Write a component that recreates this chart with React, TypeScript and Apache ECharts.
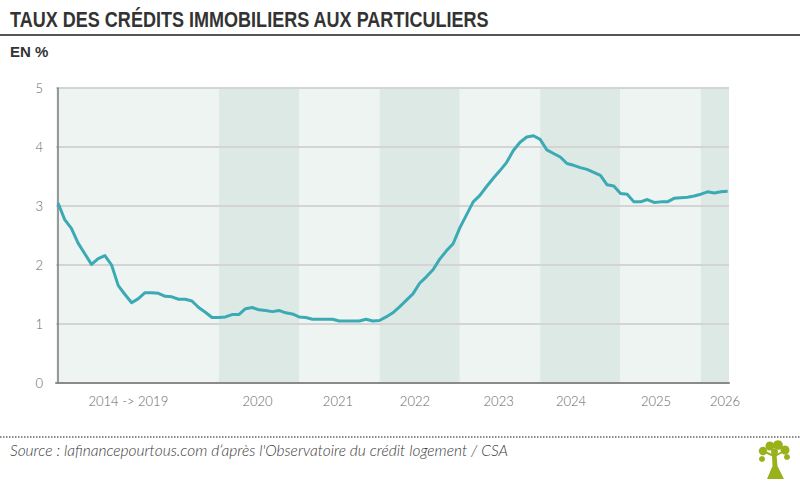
import React, { useEffect, useRef } from "react";
import * as echarts from "echarts";

// Taux moyens des crédits immobiliers aux particuliers, en %
// 2014 -> 2019 : un point par trimestre
const rates2014to2019 = [
  3.05, 2.77, 2.62, 2.37, 2.19, 2.01, 2.11, 2.16, 2.0, 1.65, 1.5, 1.36,
  1.43, 1.53, 1.53, 1.52, 1.47, 1.46, 1.42, 1.42, 1.39, 1.28, 1.2, 1.11,
];
// À partir de 2020 : un point par mois
const rates2020 = [1.11, 1.12, 1.16, 1.16, 1.26, 1.28, 1.24, 1.23, 1.21, 1.23, 1.19, 1.17];
const rates2021 = [1.12, 1.11, 1.08, 1.08, 1.08, 1.08, 1.05, 1.05, 1.05, 1.05, 1.08, 1.05];
const rates2022 = [1.06, 1.12, 1.19, 1.29, 1.4, 1.51, 1.69, 1.8, 1.92, 2.1, 2.24, 2.36];
const rates2023 = [2.63, 2.85, 3.07, 3.18, 3.33, 3.47, 3.6, 3.74, 3.94, 4.08, 4.17, 4.19];
const rates2024 = [4.13, 3.95, 3.89, 3.83, 3.72, 3.69, 3.65, 3.62, 3.57, 3.52, 3.36, 3.34];
const rates2025 = [3.21, 3.2, 3.07, 3.07, 3.11, 3.06, 3.07, 3.07, 3.13, 3.14, 3.15, 3.17];
const rates2026 = [3.2, 3.24, 3.22, 3.24, 3.25];

const periodRates = [
  rates2014to2019, rates2020, rates2021, rates2022,
  rates2023, rates2024, rates2025, rates2026,
];
const periodLabels = ["2014 -> 2019", "2020", "2021", "2022", "2023", "2024", "2025", "2026"];

// Y axis ticks
const yTicks = [0, 1, 2, 3, 4, 5];

// Layout (axis units: one slot per point)
const X_MIN = -0.3;
const X_MAX = 100.2;
const labelAt = [10.5, 29.8, 41.8, 53.3, 65.8, 76.6, 89.3, 99.6];

const LIGHT_BAND = "#eef4f1";
const DARK_BAND = "#dde9e4";
const LINE_COLOR = "#3caab4";
const LOGO_GREEN = "#99b11a";
const FONT = "Lato, 'Open Sans', sans-serif";
const HEAD_FONT = "'Liberation Sans', Arial, sans-serif";

function buildOption() {
  const points: [number, number][] = [];
  const bands: any[] = [];
  let start = 0;
  periodRates.forEach((arr, p) => {
    const from = p === 0 ? X_MIN : start;
    const end = start + arr.length;
    const to = p === periodRates.length - 1 ? X_MAX : end;
    bands.push([
      { xAxis: from, itemStyle: { color: p % 2 === 0 ? LIGHT_BAND : DARK_BAND } },
      { xAxis: to },
    ]);
    arr.forEach((v, i) => points.push([start + i, v]));
    start = end;
  });

  return {
    animation: false,
    backgroundColor: "#ffffff",
    textStyle: { fontFamily: FONT },
    grid: { left: 56, right: 71, top: 88, bottom: 100, containLabel: false },
    xAxis: {
      type: "value",
      min: X_MIN,
      max: X_MAX,
      z: 1,
      axisLine: { show: true, lineStyle: { color: "#8a8a8a", width: 2 } },
      axisTick: { show: false },
      splitLine: { show: false },
      axisLabel: {
        customValues: labelAt,
        formatter: (v: number) => {
          const k = labelAt.findIndex((a) => Math.abs(a - v) < 1e-6);
          return k >= 0 ? periodLabels[k] : "";
        },
        color: "#666666",
        fontSize: 13,
        fontWeight: 300,
        fontFamily: FONT,
        margin: 11,
      },
    },
    yAxis: {
      type: "value",
      min: yTicks[0],
      max: yTicks[yTicks.length - 1],
      interval: 1,
      z: 1,
      axisLine: { show: true, lineStyle: { color: "#7a7a7a", width: 1.5 } },
      axisTick: { show: false },
      splitLine: { show: true, lineStyle: { color: "#d4d4d4", width: 1.8 } },
      axisLabel: {
        color: "#666666",
        fontSize: 13,
        fontWeight: 300,
        fontFamily: FONT,
        margin: 13,
      },
    },
    series: [
      {
        type: "line",
        data: [],
        silent: true,
        z: 0,
        markArea: { silent: true, z: 0, data: bands },
      },
      {
        type: "line",
        data: points,
        z: 3,
        showSymbol: false,
        symbol: "none",
        lineStyle: { color: LINE_COLOR, width: 3, join: "round" },
      },
    ],
    graphic: [
      {
        type: "text",
        x: 10,
        y: 8,
        scaleX: 0.82,
        style: {
          text: "TAUX DES CRÉDITS IMMOBILIERS AUX PARTICULIERS",
          fill: "#333333",
          font: "bold 22px " + HEAD_FONT,
          align: "left",
          verticalAlign: "top",
        },
      },
      {
        type: "line",
        shape: { x1: 0, y1: 35, x2: 800, y2: 35 },
        style: { stroke: "#555555", lineWidth: 2 },
      },
      {
        type: "text",
        x: 10,
        y: 44,
        style: {
          text: "EN %",
          fill: "#333333",
          font: "bold 15px " + HEAD_FONT,
          align: "left",
          verticalAlign: "top",
        },
      },
      {
        type: "line",
        shape: { x1: 0, y1: 437, x2: 800, y2: 437 },
        style: { stroke: "#666666", lineWidth: 1.5, lineDash: [1.5, 1.5] },
      },
      {
        type: "text",
        x: 10,
        y: 442,
        style: {
          text: "Source : lafinancepourtous.com d’après l'Observatoire du crédit logement / CSA",
          fill: "#3a3a3a",
          font: "italic 300 15.5px " + FONT,
          align: "left",
          verticalAlign: "top",
        },
      },
      {
        type: "group",
        x: 774,
        y: 460,
        children: [
          { type: "polygon", shape: { points: [[-2, -5], [2.5, -5], [3.5, 6], [10, 19], [-7, 19], [-1.5, 6]] }, style: { fill: LOGO_GREEN } },
          { type: "line", shape: { x1: 0, y1: -4, x2: -9, y2: -8 }, style: { stroke: LOGO_GREEN, lineWidth: 2 } },
          { type: "line", shape: { x1: 1, y1: -4, x2: 10, y2: -9 }, style: { stroke: LOGO_GREEN, lineWidth: 2 } },
          { type: "circle", shape: { cx: -11, cy: -9, r: 4.2 }, style: { fill: LOGO_GREEN } },
          { type: "circle", shape: { cx: -12, cy: -1, r: 3 }, style: { fill: LOGO_GREEN } },
          { type: "circle", shape: { cx: -4, cy: -14, r: 4.5 }, style: { fill: LOGO_GREEN } },
          { type: "circle", shape: { cx: 4, cy: -15, r: 4.8 }, style: { fill: LOGO_GREEN } },
          { type: "circle", shape: { cx: 11, cy: -10, r: 4.5 }, style: { fill: LOGO_GREEN } },
          { type: "circle", shape: { cx: 13, cy: -3, r: 3 }, style: { fill: LOGO_GREEN } },
          { type: "circle", shape: { cx: 0.5, cy: -8, r: 3.5 }, style: { fill: LOGO_GREEN } },
        ],
      },
    ],
  };
}

export default function App() {
  const ref = useRef<HTMLDivElement>(null);
  useEffect(() => {
    if (!ref.current) return;
    const chart = echarts.init(ref.current, null, { renderer: "svg" });
    chart.setOption(buildOption() as any);
    return () => chart.dispose();
  }, []);
  return (
    <div
      ref={ref}
      style={{ position: "fixed", left: 0, top: 0, width: 800, height: 483, background: "#ffffff" }}
    />
  );
}
